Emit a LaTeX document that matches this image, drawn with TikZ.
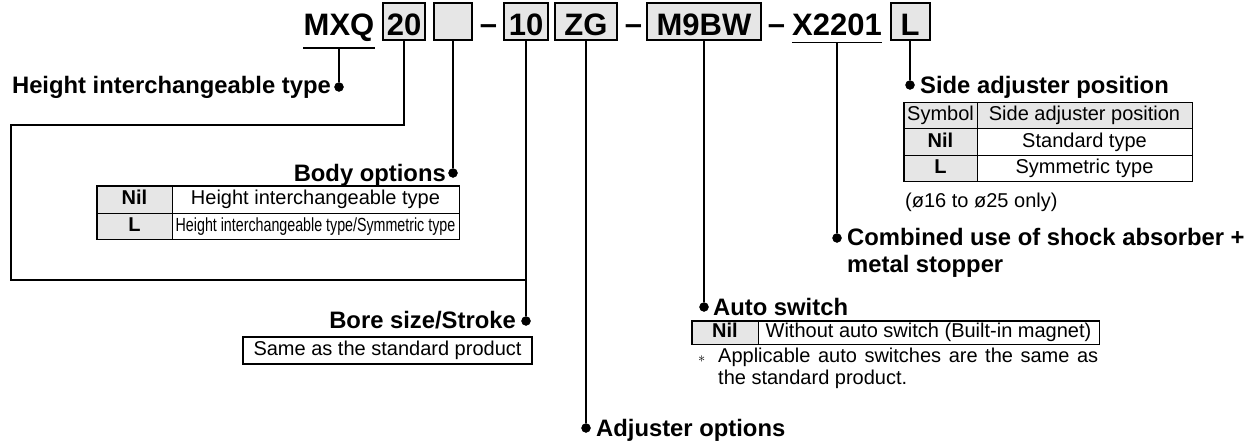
\documentclass[tikz,border=0pt]{standalone}
\usepackage{fontspec}
\setmainfont{Liberation Sans}
\usepackage{graphicx}
\definecolor{cellgray}{HTML}{E6E6E6}

\begin{document}
\begin{tikzpicture}
[
	x=1pt,y=-1pt,
	conn/.style={line width=1.8pt},
	closedpt/.style={circle,draw,fill,inner sep=0pt,minimum size=9pt},
	codebox/.style={draw,line width=2pt,fill=cellgray,inner sep=0pt,text height=33pt,text depth=4pt,font=\fontsize{31}{31}\selectfont\bfseries},
	codetext/.style={inner xsep=0pt,inner ysep=6pt,font=\fontsize{31}{31}\selectfont\bfseries},
	labeltext/.style={inner sep=0pt,font=\fontsize{23.8}{27}\selectfont\bfseries},
	remark/.style={inner sep=0pt,font=\fontsize{20}{22}\selectfont},
	graycell/.style={draw,line width=1pt,fill=cellgray,inner sep=0pt,text height=14.5pt,text depth=4.5pt,font=\fontsize{20}{22}\selectfont\bfseries},
	whitecell/.style={draw,line width=1pt,inner sep=0pt,text height=14.5pt,text depth=4.5pt,font=\fontsize{20}{22}\selectfont},
	tabframe/.style={line width=1.8pt}
]

	\useasboundingbox (0,0) rectangle (1255,441);

	% model code
	\node[codetext,anchor=base] at (339,36) (mxq) {MXQ};
	\node[codebox,minimum width=42pt,anchor=base] at (404,36) (b20) {20};
	\node[codebox,minimum width=38pt,anchor=base] at (453,36) (bopt) {};
	\node[codetext,anchor=base] at (488.5,36) (dash1) {\raisebox{1pt}{\textendash}};
	\node[codebox,minimum width=44pt,anchor=base] at (526,36) (b10) {10};
	\node[codebox,minimum width=62pt,anchor=base] at (586,36) (bzg) {ZG};
	\node[codetext,anchor=base] at (633.5,36) (dash2) {\raisebox{1pt}{\textendash}};
	\node[codebox,minimum width=114pt,anchor=base] at (704,36) (bsw) {M9BW};
	\node[codetext,anchor=base] at (776.5,36) (dash3) {\raisebox{1pt}{\textendash}};
	\node[codetext,anchor=base] at (837,36) (bx) {X2201};
	\node[codebox,minimum width=39pt,anchor=base] at (910,36) (bl) {L};

	\draw[conn] (mxq.south west) -- (mxq.south east);
	\draw[conn] (bx.south west) -- (bx.south east);

	% dots
	\node[closedpt] at (339,87) (dheight) {};
	\node[closedpt] at (453,173) (dbody) {};
	\node[closedpt] at (526,321) (dbore) {};
	\node[closedpt] at (586,428) (dadj) {};
	\node[closedpt] at (704,307) (dswitch) {};
	\node[closedpt] at (837,238) (dx) {};
	\node[closedpt] at (910,85) (dside) {};

	% leaders
	\draw[conn] (mxq.south) -- (dheight);
	\draw[conn] (bopt.south) -- (dbody);
	\draw[conn] (b10.south) -- (dbore);
	\draw[conn] (bzg.south) -- (dadj);
	\draw[conn] (bsw.south) -- (dswitch);
	\draw[conn] (bx.south) -- (dx);
	\draw[conn] (bl.south) -- (dside);

	\coordinate (loopa) at (11,125);
	\coordinate (loopb) at (11,280);
	\draw[conn] (b20.south) |- (loopa) -- (loopb) -- (b10.south |- loopb);

	% labels
	\node[labeltext,anchor=base east] at (331,94) (lheight) {Height interchangeable type};
	\node[labeltext,anchor=base east] at (446,181) (lbody) {Body options};
	\node[labeltext,anchor=base east] at (516,328) (lbore) {Bore size/Stroke};
	\node[labeltext,anchor=base west] at (596,436) (ladj) {Adjuster options};
	\node[labeltext,anchor=base west] at (713,315) (lswitch) {Auto switch};
	\node[labeltext,anchor=base west,align=left] at (847,272) (lx) {Combined use of shock absorber +\\metal stopper};
	\node[labeltext,anchor=base west] at (920,94) (lside) {Side adjuster position};

	% body options
	\node[graycell,minimum width=75pt,minimum height=27pt] at (134.5,199.5) (bnil) {Nil};
	\node[whitecell,minimum width=287pt,minimum height=27pt] at (315.5,199.5) (bnilt) {Height interchangeable type};
	\node[graycell,minimum width=75pt,minimum height=26pt] at (134.5,226) (bsym) {L};
	\node[whitecell,minimum width=287pt,minimum height=26pt] at (315.5,226) (bsymt) {\fontsize{19}{22}\selectfont\scalebox{0.75}[1]{Height interchangeable type/Symmetric type}};
	\draw[tabframe] (bnil.north west) rectangle (bsymt.south east);

	% bore size
	\node[whitecell,line width=1.5pt,minimum width=289pt,minimum height=27pt] at (387.5,350.5) (bsame) {Same as the standard product};

	% auto switch
	\node[graycell,minimum width=66pt,minimum height=23pt] at (725,332.5) (snil) {Nil};
	\node[whitecell,minimum width=341pt,minimum height=23pt] at (928.5,332.5) (snilt) {Without auto switch (Built-in magnet)};
	\draw[tabframe] (snil.north west) rectangle (snilt.south east);
	\node[remark,anchor=base west] at (698,362) (nstar) {$\scriptstyle\ast$};
	\node[remark,anchor=base west,text width=380pt,align=justify] at (718,362) (nswitch) {Applicable auto switches are the same as the standard product.};

	% side adjuster
	\node[graycell,font=\fontsize{20}{22}\selectfont,minimum width=73pt,minimum height=26pt] at (940.5,116) (shead) {Symbol};
	\node[graycell,font=\fontsize{20}{22}\selectfont,minimum width=215pt,minimum height=26pt] at (1084.5,116) (sheadt) {Side adjuster position};
	\node[graycell,minimum width=73pt,minimum height=26pt] at (940.5,142) (sstd) {Nil};
	\node[whitecell,minimum width=215pt,minimum height=26pt] at (1084.5,142) (sstdt) {Standard type};
	\node[graycell,minimum width=73pt,minimum height=26pt] at (940.5,168) (ssym) {L};
	\node[whitecell,minimum width=215pt,minimum height=26pt] at (1084.5,168) (ssymt) {Symmetric type};
	\draw[tabframe] (shead.north west) rectangle (ssymt.south east);
	\node[remark,anchor=base west] at (905,207) (nsize) {(ø16 to ø25 only)};

\end{tikzpicture}
\end{document}
